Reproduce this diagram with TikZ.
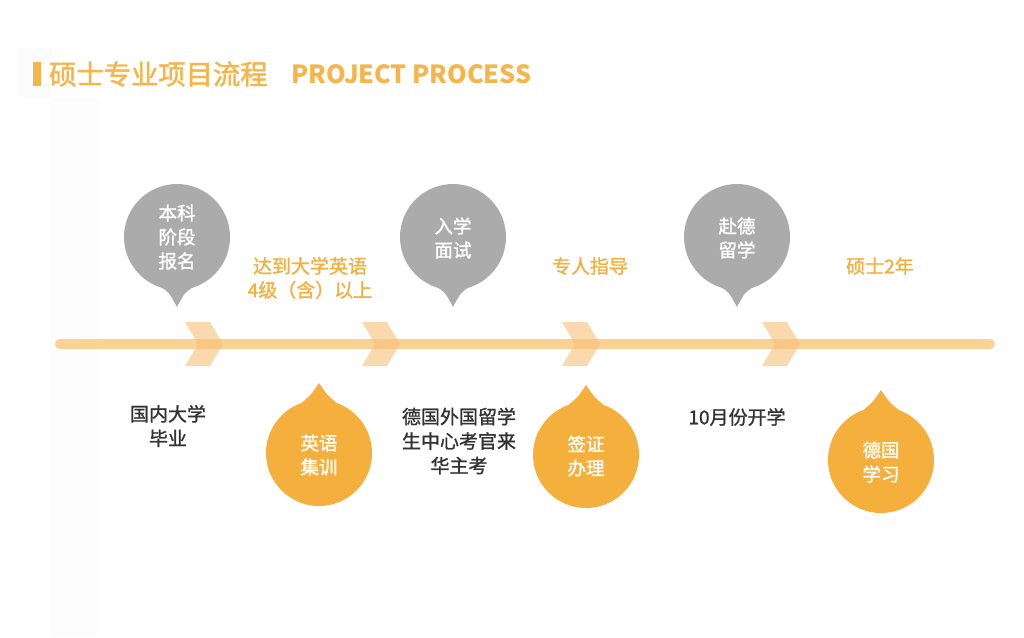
\documentclass[tikz,border=0pt]{standalone}
\usepackage{fontspec}
\setmainfont{Noto Sans CJK SC}
\begin{document}
\begin{tikzpicture}[x=1pt,y=-1pt]
\definecolor{orangeA}{HTML}{F4AF3D}
\definecolor{titleC}{HTML}{F5B548}
\definecolor{lineC}{HTML}{FAD293}
\definecolor{chevC}{HTML}{F7C07A}
\definecolor{grayB}{HTML}{ABABAB}
\definecolor{darkT}{HTML}{333333}
\tikzset{
  bubtext/.style={text=white,font=\fontsize{18.5}{24}\selectfont\addfontfeatures{FakeBold=1.4},align=center,inner sep=0pt},
  uptext/.style={text=orangeA,font=\fontsize{19}{24}\selectfont\addfontfeatures{FakeBold=1.2},align=center,inner sep=0pt},
  downtext/.style={text=darkT,font=\fontsize{19}{24.5}\selectfont\addfontfeatures{FakeBold=1.2},align=center,inner sep=0pt},
  chev/.style={fill=chevC,fill opacity=0.6},
}
\useasboundingbox (0,0) rectangle (1024,637);
\fill[white] (0,0) rectangle (1024,637);
\fill[black!1.2] (18,48) rectangle (52,98);
\fill[black!0.8] (50,98) rectangle (100,637);
% title
\fill[titleC] (33,62) rectangle (41,86);
\node[anchor=west,text=titleC,font=\fontsize{27.3}{27}\selectfont\addfontfeatures{FakeBold=1.5},inner sep=0pt] (title) at (49,74) {硕士专业项目流程};
\node[anchor=west,text=titleC,font=\fontsize{25}{25}\selectfont\bfseries,inner sep=0pt] (titleen) at (291,74) {PROJECT PROCESS};
% timeline
\coordinate (lstart) at (60,344);
\coordinate (lend) at (990,344);
\draw[lineC,line width=10pt,line cap=round] (lstart) -- (lend);
% chevrons
\foreach \x in {185,362,562,762}{
  \fill[chev] (\x,322) -- (\x+25,322) -- (\x+38,344) -- (\x+25,366) -- (\x,366) -- (\x+13,344) -- cycle;
}
% gray bubbles (pointer down)
\foreach \cx/\nm in {177/g1,453/g2,737/g3}{
  \fill[grayB] (\cx,237) circle[radius=53];
  \fill[grayB] (\cx-18,286) .. controls (\cx-8,292) .. (\cx,307) .. controls (\cx+8,292) .. (\cx+18,286) -- cycle;
  \coordinate (\nm) at (\cx,237);
}
% orange bubbles (pointer up)
\foreach \cx/\cy/\nm in {319/453/o1,586/455/o2,881/460/o3}{
  \fill[orangeA] (\cx,\cy) circle[radius=53];
  \fill[orangeA] (\cx-20,\cy-48) .. controls (\cx-8,\cy-58) .. (\cx,\cy-70) .. controls (\cx+8,\cy-58) .. (\cx+20,\cy-48) -- cycle;
  \coordinate (\nm) at (\cx,\cy);
}
% bubble texts
\node[bubtext] (t1) at (177,237) {本科\\阶段\\报名};
\node[bubtext] (t2) at (453,238) {入学\\面试};
\node[bubtext] (t3) at (737,238) {赴德\\留学};
\node[bubtext] (t4) at (319,455) {英语\\集训};
\node[bubtext] (t5) at (586,456) {签证\\办理};
\node[bubtext] (t6) at (881,462) {德国\\学习};
% labels above
\node[uptext] (u1) at (310,278) {达到大学英语\\4级（含）以上};
\node[uptext] (u2) at (590,266) {专人指导};
\node[uptext] (u3) at (880,266) {硕士2年};
% labels below
\node[downtext] (d1) at (168,426) {国内大学\\毕业};
\node[downtext] (d2) at (459,441) {德国外国留学\\生中心考官来\\华主考};
\node[downtext] (d3) at (737,417) {10月份开学};
\end{tikzpicture}
\end{document}
